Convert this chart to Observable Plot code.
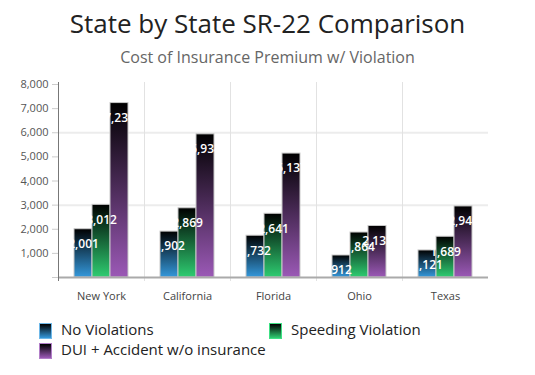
<!DOCTYPE html>
<html><head><meta charset="utf-8">
<script src="https://cdn.jsdelivr.net/npm/d3@7"></script>
<script src="https://cdn.jsdelivr.net/npm/@observablehq/plot@0.6"></script>
<style>
body{margin:0;background:#fff;font-family:"Open Sans",sans-serif;}
#wrap{position:relative;width:535px;height:375px;overflow:hidden;background:#fff}
#title{position:absolute;top:5px;left:0;width:535px;text-align:center;font-size:26px;color:#222;line-height:36px}
#subtitle{position:absolute;top:46px;left:0;width:535px;text-align:center;font-size:16px;color:#666;line-height:22px}
#chart{position:absolute;top:68px;left:0}
.leg{position:absolute;font-size:15px;color:#222;line-height:18px;white-space:nowrap}
.sw{position:absolute;left:0;top:1px;width:11px;height:14px;box-sizing:content-box}
.leg span.t{position:absolute;left:22px;top:-2px}
</style></head>
<body><div id="wrap">
<div id="title">State by State SR-22 Comparison</div>
<div id="subtitle">Cost of Insurance Premium w/ Violation</div>
<div id="chart"></div>
<div id="legend"></div>
</div>
<script>
const states = ["New York", "California", "Florida", "Ohio", "Texas"];
const series = ["No Violations", "Speeding Violation", "DUI + Accident w/o insurance"];
const noViolations = [2001, 1902, 1732, 912, 1121];
const speeding = [3012, 2869, 2641, 1864, 1689];
const dui = [7230, 5934, 5137, 2135, 2946];
const yTicks = [0, 1000, 2000, 3000, 4000, 5000, 6000, 7000, 8000];
const gridTicks = [3000, 6000];
const colors = ["#3498db", "#2ecc71", "#9b59b6"];
const borders = ["#6fb8e8", "#3ee084", "#b27fc8"];

const valuesBySeries = [noViolations, speeding, dui];
const data = [];
series.forEach((s, j) => states.forEach((st, i) => data.push({state: st, series: s, value: valuesBySeries[j][i], j})));

function defs() {
  const ns = "http://www.w3.org/2000/svg";
  const d = document.createElementNS(ns, "defs");
  colors.forEach((c, j) => {
    const g = document.createElementNS(ns, "linearGradient");
    g.setAttribute("id", "grad" + j);
    g.setAttribute("x1", "0"); g.setAttribute("y1", "0");
    g.setAttribute("x2", "0"); g.setAttribute("y2", "1");
    [["0%", "#000000"], ["100%", c]].forEach(([o, col]) => {
      const s = document.createElementNS(ns, "stop");
      s.setAttribute("offset", o); s.setAttribute("stop-color", col);
      g.appendChild(s);
    });
    d.appendChild(g);
  });
  return d;
}

const fmt = d3.format(",");
const plot = Plot.plot({
  width: 535,
  height: 240,
  marginLeft: 57,
  marginRight: 46,
  marginTop: 16,
  marginBottom: 31,
  style: {fontFamily: "Open Sans, sans-serif", background: "transparent"},
  fx: {domain: states, padding: 0, label: null},
  x: {domain: series, paddingInner: 0, paddingOuter: 0.78, axis: null},
  y: {domain: [0, 8000], axis: null},
  marks: [
    defs,
    Plot.ruleY(gridTicks, {stroke: "#ececec", strokeWidth: 2}),
    Plot.frame({anchor: "left", stroke: "#e2e2e2", insetTop: -2, insetBottom: -3}),
    ...series.map((s, j) => Plot.barY(data.filter(d => d.j === j), {
      fx: "state", x: "series", y: "value",
      fill: `url(#grad${j})`, stroke: "#c9c9c9", strokeWidth: 1
    })),
    Plot.ruleY([0], {stroke: "#aaaaaa", strokeWidth: 2}),
    Plot.frame({anchor: "left", stroke: "#777", facetAnchor: "left", insetTop: -2, insetBottom: -3}),
    Plot.axisY(yTicks, {anchor: "left", facetAnchor: "left", tickSize: 6, tickPadding: 4, stroke: "#cccccc", fill: "#555", fontSize: 11, label: null, tickFormat: d => d === 0 ? "" : fmt(d)}),
    Plot.axisFx({anchor: "bottom", tickSize: 0, tickPadding: 15, fontSize: 11, fill: "#444", label: null}),
    Plot.text(data, {fx: "state", x: "series", y: "value", text: d => fmt(d.value), dy: 15, fill: "white", fontSize: 12, fontWeight: 600})
  ]
});
document.getElementById("chart").appendChild(plot);

const legendPos = [[39, 322], [269, 322], [39, 342]];
const legend = document.getElementById("legend");
series.forEach((s, j) => {
  const el = document.createElement("div");
  el.className = "leg";
  el.style.left = legendPos[j][0] + "px";
  el.style.top = legendPos[j][1] + "px";
  el.innerHTML = `<div class="sw" style="background:linear-gradient(to bottom,#000,${colors[j]});border:1px solid ${borders[j]}"></div><span class="t">${s}</span>`;
  legend.appendChild(el);
});
</script>
</body></html>
